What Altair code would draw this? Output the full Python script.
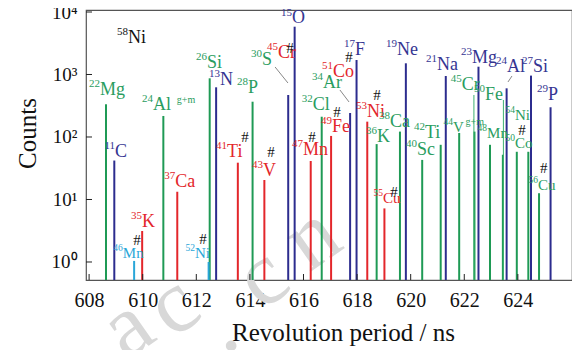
import altair as alt
import pandas as pd

# ---------------- data ----------------
# spike positions (revolution period, ns) and peak counts
green_x = [608.63, 610.77, 612.50, 614.10, 616.68, 618.73, 619.60, 620.43, 621.12,
           621.81, 622.38, 622.96, 623.44, 623.96, 624.39, 624.79]
green_y = [334, 217, 869, 367, 211, 77, 122, 43, 75, 116, 122, 75, 52, 58, 58, 12.6]
thin_green_x = [622.36, 623.46]
thin_green_y = [470, 391]
blue_x = [608.94, 612.74, 615.43, 615.67, 617.74, 617.98, 619.82, 621.31, 622.53,
          623.58, 624.49, 625.22]
blue_y = [42, 624, 470, 5820, 242, 1706, 1511, 946, 1333, 601, 960, 299]
red_x = [609.98, 611.29, 613.55, 614.54, 616.27, 617.03, 618.38, 619.02]
red_y = [3.13, 13.3, 38.8, 20.5, 41.3, 104, 176, 7.2]
cyan_x = [609.68, 612.46]
cyan_y = [1.04, 1.0]

# labels: mass number, element, anchor (ns), log10(counts) of baseline, colour group, size group
lab_mass = ["58", "22", "24", "26", "13", "11", "35", "46", "37", "52", "41", "28", "43",
            "30", "45", "15", "47", "32", "49", "34", "51", "17", "53", "38", "36", "55",
            "19", "40", "42", "21", "44", "45", "23", "50", "48", "24", "27", "54", "50",
            "29", "56"]
lab_elem = ["Ni", "Mg", "Al", "Si", "N", "C", "K", "Mn", "Ca", "Ni", "Ti", "P", "V",
            "S", "Cr", "O", "Mn", "Cl", "Fe", "Ar", "Co", "F", "Ni", "Ca", "K", "Cu",
            "Ne", "Sc", "Ti", "Na", "V", "Cr", "Mg", "Fe", "Mn", "Al", "Si", "Ni", "Co",
            "P", "Cu"]
lab_x = [609.45, 608.41, 610.38, 612.40, 612.88, 608.97, 609.97, 609.26, 611.21, 611.95,
         613.15, 613.93, 614.49, 614.45, 615.05, 615.57, 615.98, 616.35, 617.06, 616.73,
         617.10, 617.92, 618.37, 619.23, 618.74, 618.97, 619.49, 620.24, 620.53, 620.98,
         621.58, 621.91, 622.29, 622.77, 622.85, 623.59, 624.56, 623.89, 623.89, 625.12,
         624.75]
lab_e = [3.504, 2.672, 2.432, 3.104, 2.832, 1.68, 0.56, 0.064, 1.2, 0.064,
         1.68, 2.704, 1.376, 3.152, 3.264, 3.824, 1.712, 2.432, 2.08, 2.784,
         2.96, 3.312, 2.32, 2.16, 1.92, 0.944, 3.312, 1.712, 1.984, 3.072,
         2.08, 2.752, 3.184, 2.592, 1.984, 3.04, 3.04, 2.272, 1.824, 2.592,
         1.152]
lab_col = ["k", "g", "g", "g", "b", "b", "r", "c", "r", "c", "r", "g", "r",
           "g", "r", "b", "r", "g", "r", "g", "r", "b", "r", "g", "g", "r",
           "b", "g", "g", "b", "g", "g", "b", "g", "g", "b", "b", "g", "g",
           "b", "g"]
lab_big = [1, 1, 1, 1, 1, 1, 1, 0, 1, 0, 1, 1, 1,
           1, 1, 1, 1, 1, 1, 1, 1, 1, 1, 1, 1, 0,
           1, 1, 1, 1, 0, 1, 1, 1, 0, 1, 1, 0, 0,
           1, 0]

# isomeric suffixes
suf_text = ["g+m", "g+m"]
suf_x = [611.27, 622.05]
suf_e = [2.432, 2.08]
suf_col = ["g", "g"]

# '#' marks
hash_x = [609.79, 612.25, 613.82, 614.79, 615.50, 616.32, 617.25, 617.70, 618.74, 619.38,
          624.15, 624.97]
hash_e = [0.272, 0.288, 1.92, 1.68, 3.344, 1.92, 2.32, 3.2, 2.592, 1.04, 2.032, 1.424]

# grey connector segments
seg_x1 = [614.94, 617.36, 623.63]
seg_e1 = [3.12, 2.752, 2.88]
seg_x2 = [615.42, 617.70, 623.78]
seg_e2 = [2.864, 2.56, 2.976]

x_ticks = [608, 610, 612, 614, 616, 618, 620, 622, 624]
y_ticks = [1, 10, 100, 1000, 10000]

# faint watermark letters
wm_text = ["a", "c", ".", "c", "n"]

# ---------------- styling ----------------
W, H = 486, 270
FONT = "Liberation Serif"
COL = {"g": "#1f9a55", "b": "#2c2c8e", "r": "#e3262b", "c": "#2aa6d8", "k": "#111111"}
TXT = {"g": "#2a9d60", "b": "#353592", "r": "#e3262b", "c": "#2aa6d8", "k": "#111111"}

xs = alt.Scale(domain=[607.884, 626.02], nice=False, zero=False)
ys = alt.Scale(type="log", domain=[0.515, 10765], nice=False)

X_AX = alt.Axis(
    values=x_ticks, format="d", grid=False, ticks=False, domain=False,
    labelFont=FONT, labelFontSize=20, labelColor="#111", labelPadding=10,
    title="Revolution period / ns", titleFont=FONT, titleFontSize=25,
    titleFontWeight="normal", titleColor="#111", titleX=257, titleY=60,
    titleAlign="center", titleBaseline="alphabetic")
Y_AX = alt.Axis(
    values=y_ticks, grid=False, ticks=False, domain=False,
    labelExpr="'10' + ['\u2070','\u00b9','\u00b2','\u00b3','\u2074'][round(log(datum.value)/LN10)]",
    labelFont=FONT, labelFontSize=19, labelColor="#111", labelPadding=9,
    title="Counts", titleFont=FONT, titleFontSize=25, titleFontWeight="normal",
    titleColor="#111", titleX=-59, titleY=123, titleAlign="center",
    titleBaseline="middle", titleAngle=270)


def X(field):
    return alt.X(field, scale=xs, axis=X_AX, title="Revolution period / ns")


def Y(field):
    return alt.Y(field, scale=ys, axis=Y_AX, title="Counts")


def spikes(xv, yv, color, width):
    df = pd.DataFrame({"ns": xv, "cnt": yv})
    return alt.Chart(df).mark_rule(color=color, strokeWidth=width).encode(
        x=X("ns:Q"), y=Y("cnt:Q"), y2=alt.value(H))


xt = alt.Chart(pd.DataFrame({"ns": x_ticks})).mark_rule(color="#222", strokeWidth=1).encode(
    x=X("ns:Q"), y=alt.value(H), y2=alt.value(H - 6))
yt = alt.Chart(pd.DataFrame({"cnt": y_ticks})).mark_rule(color="#222", strokeWidth=1).encode(
    y=Y("cnt:Q"), x=alt.value(0), x2=alt.value(6))

lab = pd.DataFrame({"mass": lab_mass, "elem": lab_elem, "ns": lab_x, "e": lab_e,
                    "col": lab_col, "big": lab_big})
lab["cnt"] = 10 ** lab["e"]
lab["fs"] = lab["big"].map({1: 18, 0: 15})
lab["sfs"] = lab["big"].map({1: 11, 0: 9.5})
lab["cnt_sup"] = 10 ** (lab["e"] + lab["big"].map({1: 7.5, 0: 6.5}) / 62.5)
lab["color"] = lab["col"].map(TXT)

elem_layer = alt.Chart(lab).mark_text(align="left", baseline="alphabetic", font=FONT).encode(
    x=X("ns:Q"), y=Y("cnt:Q"),
    text="elem:N", size=alt.Size("fs:Q", scale=None),
    color=alt.Color("color:N", scale=None))
mass_layer = alt.Chart(lab).mark_text(align="right", baseline="alphabetic", font=FONT).encode(
    x=X("ns:Q"), y=Y("cnt_sup:Q"),
    text="mass:N", size=alt.Size("sfs:Q", scale=None),
    color=alt.Color("color:N", scale=None))

suf = pd.DataFrame({"t": suf_text, "ns": suf_x, "e": suf_e, "col": suf_col})
suf["cnt"] = 10 ** (suf["e"] + 7.0 / 62.5)
suf["color"] = suf["col"].map(TXT)
suf_layer = alt.Chart(suf).mark_text(align="left", baseline="alphabetic", font=FONT,
                                     fontSize=10).encode(
    x=X("ns:Q"), y=Y("cnt:Q"),
    text="t:N", color=alt.Color("color:N", scale=None))

hs = pd.DataFrame({"ns": hash_x, "e": hash_e})
hs["cnt"] = 10 ** hs["e"]
hash_layer = alt.Chart(hs).mark_text(align="center", baseline="alphabetic", font=FONT,
                                     fontSize=15, color="#111").encode(
    x=X("ns:Q"), y=Y("cnt:Q"), text=alt.value("#"))

sg = pd.DataFrame({"ns": seg_x1, "ns2": seg_x2, "cnt": [10 ** v for v in seg_e1],
                   "cnt2": [10 ** v for v in seg_e2]})
seg_layer = alt.Chart(sg).mark_rule(color="#888", strokeWidth=1).encode(
    x=X("ns:Q"), x2="ns2:Q", y=Y("cnt:Q"), y2="cnt2:Q")

wm_df = pd.DataFrame({"t": wm_text, "px": [41, 87, 132, 176, 226],
                      "py": [318, 296, 317, 268, 228]})
wm = alt.Chart(wm_df).mark_text(
    font=FONT, fontSize=90, color="#d8d8d8", angle=325, align="center",
    baseline="middle").encode(text="t:N", x=alt.X("px:Q", scale=None),
                              y=alt.Y("py:Q", scale=None))

chart = alt.layer(
    wm,
    spikes(green_x, green_y, COL["g"], 2),
    spikes(thin_green_x, thin_green_y, "#3cb070", 1),
    spikes(blue_x, blue_y, COL["b"], 2),
    spikes(red_x, red_y, COL["r"], 2),
    spikes(cyan_x, cyan_y, COL["c"], 2),
    xt, yt, seg_layer, elem_layer, mass_layer, suf_layer, hash_layer,
).properties(
    width=W, height=H,
    background="white",
    autosize=alt.AutoSizeParams(type="none"),
    padding={"left": 78, "top": 2, "right": 0, "bottom": 70},
).configure_view(stroke="#555", strokeWidth=1.2)

chart.save("out.html", embed_options={"renderer": "svg", "actions": False})
